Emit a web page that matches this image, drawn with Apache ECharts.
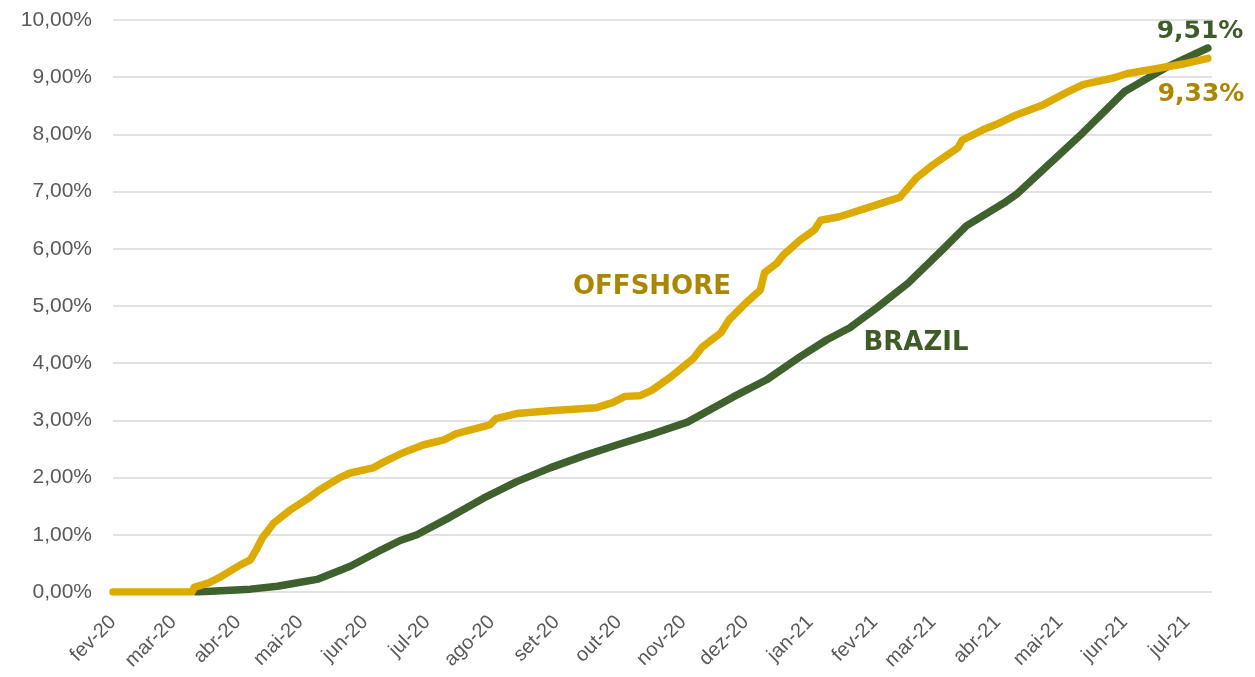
<!DOCTYPE html>
<html>
<head>
<meta charset="utf-8">
<script src="https://cdn.jsdelivr.net/npm/echarts@6/dist/echarts.min.js"></script>
<style>
  html, body { margin: 0; padding: 0; background: #fff; }
  #chart { width: 1255px; height: 677px; }
</style>
</head>
<body>
<div id="chart"></div>
<script>
// month ticks on the x axis
var monthTicks = ['2020-02-01', '2020-03-01', '2020-04-01', '2020-05-01', '2020-06-01', '2020-07-01',
    '2020-08-01', '2020-09-01', '2020-10-01', '2020-11-01', '2020-12-01', '2021-01-01',
    '2021-02-01', '2021-03-01', '2021-04-01', '2021-05-01', '2021-06-01', '2021-07-01'];
var monthNames = ['jan', 'fev', 'mar', 'abr', 'mai', 'jun', 'jul', 'ago', 'set', 'out', 'nov', 'dez'];

// OFFSHORE cumulative return (%)
var offshoreDates = ['2020-02-01', '2020-03-10', '2020-03-11', '2020-03-18', '2020-03-23', '2020-04-02',
    '2020-04-07', '2020-04-10', '2020-04-13', '2020-04-15', '2020-04-18', '2020-04-26', '2020-05-05',
    '2020-05-10', '2020-05-20', '2020-05-25', '2020-06-05', '2020-06-10', '2020-06-19', '2020-06-29',
    '2020-07-09', '2020-07-15', '2020-07-31', '2020-08-03', '2020-08-13', '2020-08-29', '2020-09-20',
    '2020-09-28', '2020-10-04', '2020-10-11', '2020-10-17', '2020-10-26', '2020-11-06', '2020-11-10',
    '2020-11-19', '2020-11-23', '2020-12-01', '2020-12-08', '2020-12-10', '2020-12-16', '2020-12-19',
    '2020-12-27', '2021-01-03', '2021-01-06', '2021-01-15', '2021-01-28', '2021-02-13', '2021-02-21',
    '2021-03-01', '2021-03-13', '2021-03-15', '2021-03-25', '2021-04-02', '2021-04-10', '2021-04-23',
    '2021-05-04', '2021-05-12', '2021-05-27', '2021-06-02', '2021-06-18', '2021-06-29', '2021-07-11'];
var offshoreValues = [0, 0, 0.08, 0.16, 0.25, 0.47,
    0.56, 0.75, 0.96, 1.05, 1.20, 1.43, 1.64,
    1.78, 2.00, 2.08, 2.17, 2.27, 2.43, 2.57,
    2.66, 2.77, 2.92, 3.03, 3.12, 3.17, 3.22,
    3.31, 3.42, 3.43, 3.53, 3.76, 4.09, 4.28,
    4.53, 4.76, 5.05, 5.28, 5.58, 5.75, 5.89,
    6.15, 6.33, 6.50, 6.56, 6.71, 6.90, 7.24,
    7.47, 7.77, 7.90, 8.08, 8.20, 8.34, 8.52,
    8.73, 8.87, 8.99, 9.06, 9.16, 9.23, 9.33];

// BRAZIL cumulative return (%)
var brazilDates = ['2020-03-12', '2020-04-07', '2020-04-20', '2020-05-01', '2020-05-09', '2020-05-25',
    '2020-06-07', '2020-06-18', '2020-06-26', '2020-07-12', '2020-07-28', '2020-08-13', '2020-08-29',
    '2020-09-14', '2020-09-30', '2020-10-16', '2020-11-03', '2020-11-25', '2020-12-11', '2020-12-27',
    '2021-01-09', '2021-01-20', '2021-02-02', '2021-02-17', '2021-03-06', '2021-03-17', '2021-04-04',
    '2021-04-10', '2021-05-12', '2021-06-01', '2021-06-22', '2021-07-11'];
var brazilValues = [0, 0.05, 0.10, 0.17, 0.22, 0.45,
    0.70, 0.90, 1.00, 1.31, 1.64, 1.93, 2.17,
    2.38, 2.57, 2.75, 2.97, 3.41, 3.71, 4.11,
    4.41, 4.62, 4.97, 5.40, 6.00, 6.40, 6.80,
    6.95, 8.03, 8.75, 9.19, 9.51];

function ts(d) {
    return Date.UTC(+d.slice(0, 4), +d.slice(5, 7) - 1, +d.slice(8, 10));
}
function pairs(dates, values) {
    return dates.map(function (d, i) { return [ts(d), values[i]]; });
}
function pct(v) {
    return v.toFixed(2).replace('.', ',') + '%';
}

var gold = '#DDAA00';
var green = '#3F612D';
var goldText = '#AB8600';
var greenText = '#3D5C27';

var option = {
    animation: false,
    grid: { left: 113, right: 43, top: 20, bottom: 85 },
    xAxis: {
        type: 'value',
        min: ts('2020-02-01'),
        max: ts('2021-07-13'),
        axisLine: { show: false },
        axisTick: { show: false },
        splitLine: { show: false },
        axisLabel: {
            customValues: monthTicks.map(ts),
            rotate: 45,
            margin: 27,
            color: '#595959',
            fontSize: 20,
            fontFamily: 'Liberation Sans',
            hideOverlap: false,
            formatter: function (v) {
                var d = new Date(v);
                return monthNames[d.getUTCMonth()] + '-' + String(d.getUTCFullYear()).slice(2);
            }
        }
    },
    yAxis: {
        type: 'value',
        min: 0,
        max: 10,
        interval: 1,
        axisLine: { show: false },
        axisTick: { show: false },
        splitLine: { lineStyle: { color: '#D9D9D9', width: 1.5 } },
        axisLabel: {
            color: '#595959',
            fontSize: 21,
            fontFamily: 'Liberation Sans',
            margin: 21,
            formatter: pct
        }
    },
    series: [
        {
            name: 'BRAZIL',
            type: 'line',
            showSymbol: false,
            data: pairs(brazilDates, brazilValues),
            lineStyle: { color: green, width: 7.5, cap: 'round', join: 'round' },
            itemStyle: { color: green },
            z: 2
        },
        {
            name: 'OFFSHORE',
            type: 'line',
            showSymbol: false,
            data: pairs(offshoreDates, offshoreValues),
            lineStyle: { color: gold, width: 7.5, cap: 'round', join: 'round' },
            itemStyle: { color: gold },
            z: 3
        }
    ],
    graphic: [
        { type: 'text', x: 652, y: 287, style: { text: 'OFFSHORE', fill: goldText, font: 'bold 26px "DejaVu Sans"', align: 'center', verticalAlign: 'middle' } },
        { type: 'text', x: 916, y: 343, style: { text: 'BRAZIL', fill: greenText, font: 'bold 26px "DejaVu Sans"', align: 'center', verticalAlign: 'middle' } },
        { type: 'text', x: 1200, y: 31, style: { text: pct(brazilValues[brazilValues.length - 1]), fill: greenText, font: 'bold 25px "DejaVu Sans"', align: 'center', verticalAlign: 'middle' } },
        { type: 'text', x: 1201, y: 94, style: { text: pct(offshoreValues[offshoreValues.length - 1]), fill: goldText, font: 'bold 25px "DejaVu Sans"', align: 'center', verticalAlign: 'middle' } }
    ]
};

var myChart = echarts.init(document.getElementById('chart'));
myChart.setOption(option);
</script>
</body>
</html>
